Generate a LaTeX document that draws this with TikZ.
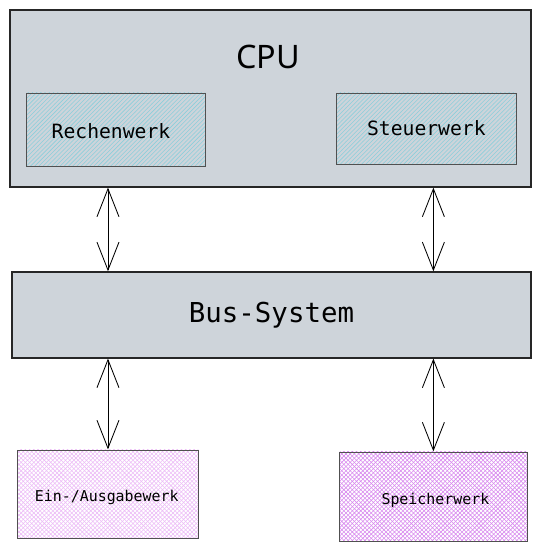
\documentclass[tikz,border=0pt]{standalone}
\usepackage{fontspec}
\usetikzlibrary{patterns,arrows.meta}
\newfontfamily\monofont{DejaVu Sans Mono}
\newfontfamily\headfont{Noto Sans}
\definecolor{boxgray}{HTML}{CED4DA}
\definecolor{unitteal}{HTML}{8CCFDA}
\definecolor{iopink}{HTML}{EDBDF7}
\definecolor{mempink}{HTML}{D98BEF}
\definecolor{edgegray}{HTML}{505050}

\begin{document}
\begin{tikzpicture}[scale=0.025,
  outer/.style={draw=black!85, line width=0.9pt, fill=boxgray, inner sep=0pt},
  unit/.style={draw=edgegray, line width=0.7pt, preaction={fill=boxgray},
    pattern=north east lines, pattern color=unitteal},
  periph/.style={draw=edgegray, line width=0.7pt, preaction={fill=white},
    pattern=crosshatch},
  unittext/.style={font=\monofont\fontsize{14}{16}\selectfont},
  periphtext/.style={font=\monofont\fontsize{10.6}{13}\selectfont},
  link/.style={{Straight Barb[length=7mm,width=5.5mm]}-{Straight Barb[length=7mm,width=5.5mm]},
    line width=0.6pt}]
\useasboundingbox (0,0) rectangle (544,-551);
\node [outer, minimum width=13.025cm, minimum height=4.425cm] (cpu) at (270.5,-98.5) {};
\node [font=\headfont\fontsize{23}{27}\selectfont] (cputitle) at (268,-57) {CPU};
\node [unit, minimum width=4.45cm, minimum height=1.825cm,
  label={[unittext, xshift=-0.125cm, yshift=-0.04cm]center:Rechenwerk}] (alu) at (116,-129.5) {};
\node [unit, minimum width=4.475cm, minimum height=1.775cm,
  label={[unittext]center:Steuerwerk}] (ctrl) at (426.5,-128.5) {};
\node [outer, minimum width=12.975cm, minimum height=2.15cm,
  font=\monofont\fontsize{19.5}{22}\selectfont] (bus) at (271.5,-315) {Bus-System};
\node [periph, pattern color=iopink, minimum width=4.5cm, minimum height=2.2cm,
  label={[periphtext, xshift=-0.03cm, yshift=-0.08cm]center:Ein-/Ausgabewerk}] (io) at (108,-494) {};
\node [periph, pattern color=mempink, minimum width=4.675cm, minimum height=2.225cm,
  label={[periphtext, xshift=0.05cm, yshift=-0.11cm]center:Speicherwerk}] (mem) at (433.5,-496.5) {};
\draw [link] (cpu.south -| io) -- (bus.north -| io);
\draw [link] (cpu.south -| mem) -- (bus.north -| mem);
\draw [link] (bus.south -| io) -- (io.north);
\draw [link] (bus.south -| mem) -- (mem.north);
\end{tikzpicture}
\end{document}
